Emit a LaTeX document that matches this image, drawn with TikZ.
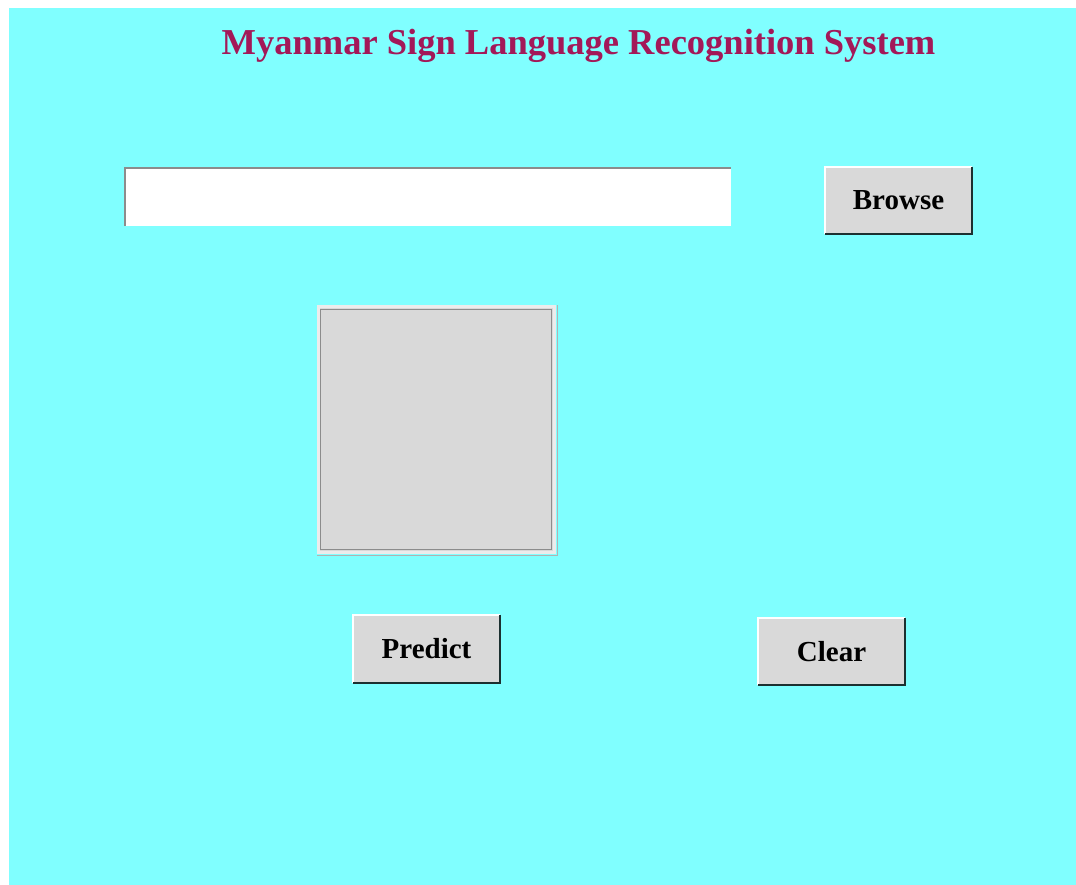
\documentclass[tikz,border=0pt]{standalone}
\usepackage{fontspec}
\setmainfont{Liberation Serif}
\usepackage{tikz}
\usetikzlibrary{positioning}
\definecolor{screen}{RGB}{128,255,255}
\definecolor{heading}{RGB}{163,24,88}
\definecolor{face}{RGB}{217,217,217}
\definecolor{edge}{RGB}{140,140,140}
\definecolor{btndark}{RGB}{28,48,48}
\definecolor{rim}{RGB}{236,236,236}

\begin{document}
\begin{tikzpicture}[x=1pt, y=-1pt,
		btn/.style={fill=face, minimum width=147pt, minimum height=67pt, inner sep=0pt,
			font=\fontsize{29}{31}\selectfont\bfseries, text height=19pt, text depth=0pt},
		field/.style={fill=white, minimum width=606pt, minimum height=58pt, inner sep=0pt},
		frame/.style={fill=face, draw=rim, line width=3pt, minimum width=236pt,
			minimum height=245pt, inner sep=0pt}]
		% window
		\useasboundingbox (0,0) rectangle (1076,885);
		\fill[white] (0,0) rectangle (1076,885);
		\fill[screen] (9,8) rectangle (1076,885);
		\node[anchor=base, text=heading, font=\fontsize{36.5}{40}\selectfont\bfseries]
			(title) at (578.5,55) {Myanmar Sign Language Recognition System};
		% file path and image
		\node[field] (path) at (428,197) {};
		\draw[edge, line width=1.5pt] (path.south west) |- (path.north east);
		\node[frame] (photo) at (436,429.5) {};
		\draw[edge, line width=1.2pt] ([shift={(4,4)}]photo.north west)
			rectangle ([shift={(-4,-4)}]photo.south east);
		\draw[gray!60, line width=1.2pt] ([shift={(2,0)}]photo.north east)
			-- ([shift={(2,2)}]photo.south east) -- ([shift={(0,2)}]photo.south west);
		% buttons
		\node[btn] (browse) at (898.5,200.5) {Browse};
		\node[btn, minimum height=68pt] (predict) at (426.5,649) {Predict};
		\node[btn] (clear) at (831.5,651.5) {Clear};
		\foreach \b in {browse,predict,clear} {
			\draw[white, line width=1.5pt] (\b.south west) |- (\b.north east);
			\draw[btndark, line width=2.5pt] (\b.north east) |- (\b.south west);
		}
	\end{tikzpicture}
\end{document}
